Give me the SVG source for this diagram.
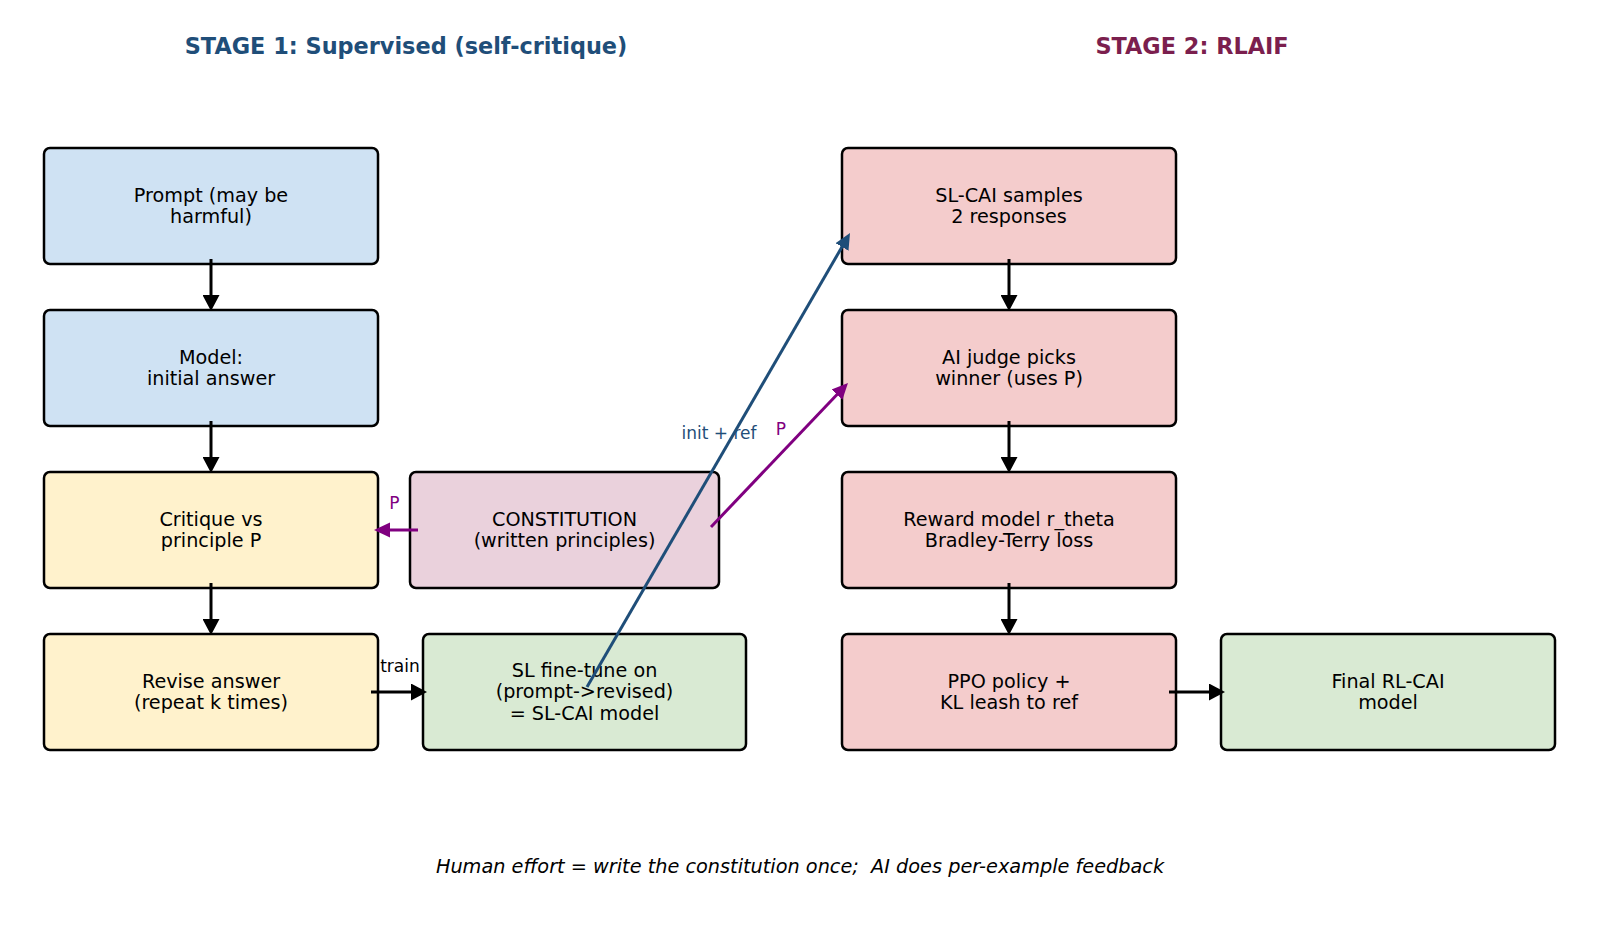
<svg xmlns="http://www.w3.org/2000/svg" width="1600" height="939" viewBox="0 0 1600 939">
<style>
.box{stroke:#000;stroke-width:2.5}
.blue{fill:#cfe2f3}.yel{fill:#fff2cc}.pink{fill:#ead1dc}.grn{fill:#d9ead3}.red{fill:#f4cccc}
text{font-family:"DejaVu Sans","Liberation Sans",sans-serif;text-anchor:middle}
.t{font-size:19.2px;fill:#000}
.lbl{font-size:17px}
.title{font-size:22.4px;font-weight:bold}
.arr{fill:none;stroke-width:3}
</style>
<defs>
<marker id="hk" markerUnits="userSpaceOnUse" markerWidth="16" markerHeight="17" refX="6" refY="8.5" orient="auto"><path d="M0,0 L16,8.5 L0,17 z" fill="#000"/></marker>
<marker id="hb" markerUnits="userSpaceOnUse" markerWidth="16" markerHeight="17" refX="6" refY="8.5" orient="auto"><path d="M0,1 L16,8.5 L0,16 z" fill="#1f4e79"/></marker>
<marker id="hp" markerUnits="userSpaceOnUse" markerWidth="16" markerHeight="17" refX="6" refY="8.5" orient="auto"><path d="M0,1 L16,8.5 L0,16 z" fill="#800080"/></marker>
</defs>
<rect width="1600" height="939" fill="#fff"/>
<text class="title" x="406" y="54" fill="#1f4e79">STAGE 1: Supervised (self-critique)</text>
<text class="title" x="1192" y="54" fill="#7b1f4e">STAGE 2: RLAIF</text>

<g id="prompt"><rect class="box blue" x="44" y="148" width="334" height="116" rx="6"/><text class="t" x="211" y="201.5">Prompt (may be</text><text class="t" x="211" y="223">harmful)</text></g>
<g id="model"><rect class="box blue" x="44" y="310" width="334" height="116" rx="6"/><text class="t" x="211" y="363.5">Model:</text><text class="t" x="211" y="385">initial answer</text></g>
<g id="critique"><rect class="box yel" x="44" y="472" width="334" height="116" rx="6"/><text class="t" x="211" y="525.5">Critique vs</text><text class="t" x="211" y="547">principle P</text></g>
<g id="revise"><rect class="box yel" x="44" y="634" width="334" height="116" rx="6"/><text class="t" x="211" y="687.5">Revise answer</text><text class="t" x="211" y="709">(repeat k times)</text></g>
<g id="constitution"><rect class="box pink" x="410" y="472" width="309" height="116" rx="6"/><text class="t" x="564.5" y="525.5">CONSTITUTION</text><text class="t" x="564.5" y="547">(written principles)</text></g>
<g id="slft"><rect class="box grn" x="423" y="634" width="323" height="116" rx="6"/><text class="t" x="584.5" y="676.5">SL fine-tune on</text><text class="t" x="584.5" y="698">(prompt-&gt;revised)</text><text class="t" x="584.5" y="719.5">= SL-CAI model</text></g>

<g id="samples"><rect class="box red" x="842" y="148" width="334" height="116" rx="6"/><text class="t" x="1009" y="201.5">SL-CAI samples</text><text class="t" x="1009" y="223">2 responses</text></g>
<g id="judge"><rect class="box red" x="842" y="310" width="334" height="116" rx="6"/><text class="t" x="1009" y="363.5">AI judge picks</text><text class="t" x="1009" y="385">winner (uses P)</text></g>
<g id="reward"><rect class="box red" x="842" y="472" width="334" height="116" rx="6"/><text class="t" x="1009" y="525.5">Reward model r_theta</text><text class="t" x="1009" y="547">Bradley-Terry loss</text></g>
<g id="ppo"><rect class="box red" x="842" y="634" width="334" height="116" rx="6"/><text class="t" x="1009" y="687.5">PPO policy +</text><text class="t" x="1009" y="709">KL leash to ref</text></g>
<g id="final"><rect class="box grn" x="1221" y="634" width="334" height="116" rx="6"/><text class="t" x="1388" y="687.5">Final RL-CAI</text><text class="t" x="1388" y="709">model</text></g>

<g id="connectors">
<line class="arr" stroke="#000" x1="211" y1="259" x2="211" y2="301" marker-end="url(#hk)"/>
<line class="arr" stroke="#000" x1="211" y1="421" x2="211" y2="463" marker-end="url(#hk)"/>
<line class="arr" stroke="#000" x1="211" y1="583" x2="211" y2="625" marker-end="url(#hk)"/>
<line class="arr" stroke="#000" x1="1009" y1="259" x2="1009" y2="301" marker-end="url(#hk)"/>
<line class="arr" stroke="#000" x1="1009" y1="421" x2="1009" y2="463" marker-end="url(#hk)"/>
<line class="arr" stroke="#000" x1="1009" y1="583" x2="1009" y2="625" marker-end="url(#hk)"/>
<line class="arr" stroke="#000" x1="371" y1="692" x2="417" y2="692" marker-end="url(#hk)"/>
<line class="arr" stroke="#000" x1="1169" y1="692" x2="1215" y2="692" marker-end="url(#hk)"/>
<line class="arr" stroke="#800080" x1="418" y1="530" x2="384" y2="530" marker-end="url(#hp)"/>
<line class="arr" stroke="#1f4e79" stroke-width="2.6" x1="587" y1="687" x2="845" y2="241.7" marker-end="url(#hb)"/>
<line class="arr" stroke="#800080" stroke-width="2.6" x1="711" y1="527" x2="841.1" y2="390.2" marker-end="url(#hp)"/>
<text class="lbl" x="394.5" y="509" fill="#800080">P</text>
<text class="lbl" x="400" y="672" fill="#000">train</text>
<text class="lbl" x="719" y="439" fill="#1f4e79">init + ref</text>
<text class="lbl" x="781" y="435" fill="#800080">P</text>
</g>
<text x="800" y="873" style="font-size:19.3px;font-style:italic;white-space:pre" xml:space="preserve">Human effort = write the constitution once;  AI does per-example feedback</text>
</svg>
